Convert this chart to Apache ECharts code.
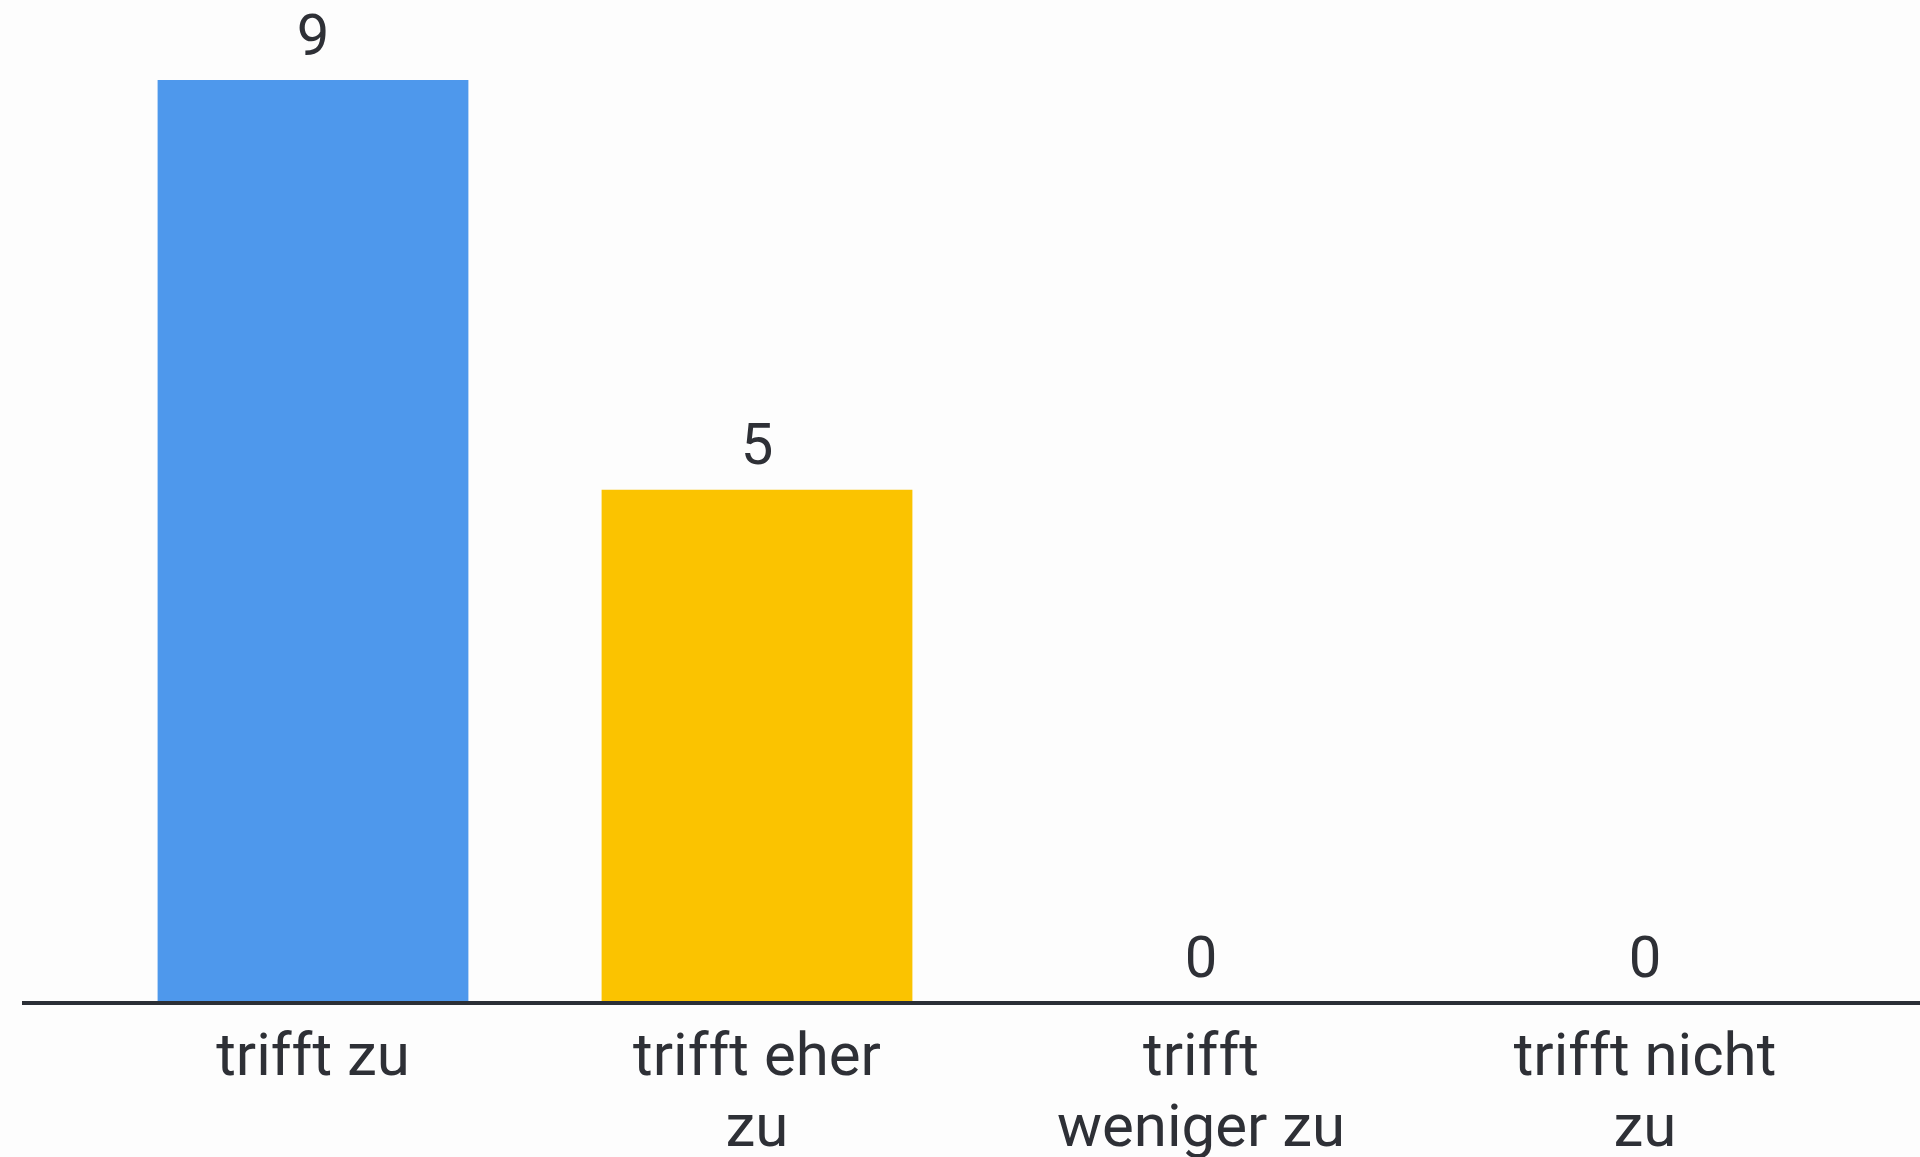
<!DOCTYPE html>
<html>
<head>
<meta charset="utf-8">
<script src="https://cdn.jsdelivr.net/npm/echarts@6/dist/echarts.min.js"></script>
<style>
html,body{margin:0;padding:0;background:#fdfdfd;}
#chart{width:1920px;height:1157px;}
</style>
</head>
<body>
<div id="chart"></div>
<script>
const categories = ['trifft zu', 'trifft eher\nzu', 'trifft\nweniger zu', 'trifft nicht\nzu'];
const values = [9, 5, 0, 0];
const barColors = ['#4e98ec', '#fbc300', '#a0a0a0', '#a0a0a0'];

const chart = echarts.init(document.getElementById('chart'));
const FONT = 'Roboto';
chart.setOption({
  backgroundColor: '#fdfdfd',
  animation: false,
  grid: { left: 91, right: 53, top: 80, bottom: 155, containLabel: false, outerBoundsMode: 'none' },
  xAxis: {
    type: 'category',
    data: categories,
    axisLine: { show: false },
    axisTick: { show: false },
    axisLabel: {
      color: '#2e3036',
      fontFamily: FONT,
      fontSize: 60,
      lineHeight: 71,
      margin: 22,
      interval: 0
    }
  },
  yAxis: {
    type: 'value',
    min: 0,
    max: 9,
    show: false,
    splitLine: { show: false }
  },
  series: [{
    type: 'bar',
    barWidth: '70%',
    data: values.map((v, i) => ({ value: v, itemStyle: { color: barColors[i] } })),
    label: {
      show: true,
      position: 'top',
      distance: 11,
      color: '#2e3036',
      fontFamily: FONT,
      fontSize: 58
    }
  }]
});
const y0 = chart.convertToPixel({ yAxisIndex: 0 }, 0);
chart.setOption({
  graphic: [{
    type: 'line',
    shape: { x1: 22, y1: y0 + 1, x2: 1920, y2: y0 + 1 },
    style: { stroke: '#2b2f36', lineWidth: 4 },
    z: 10
  }]
});
</script>
</body>
</html>
